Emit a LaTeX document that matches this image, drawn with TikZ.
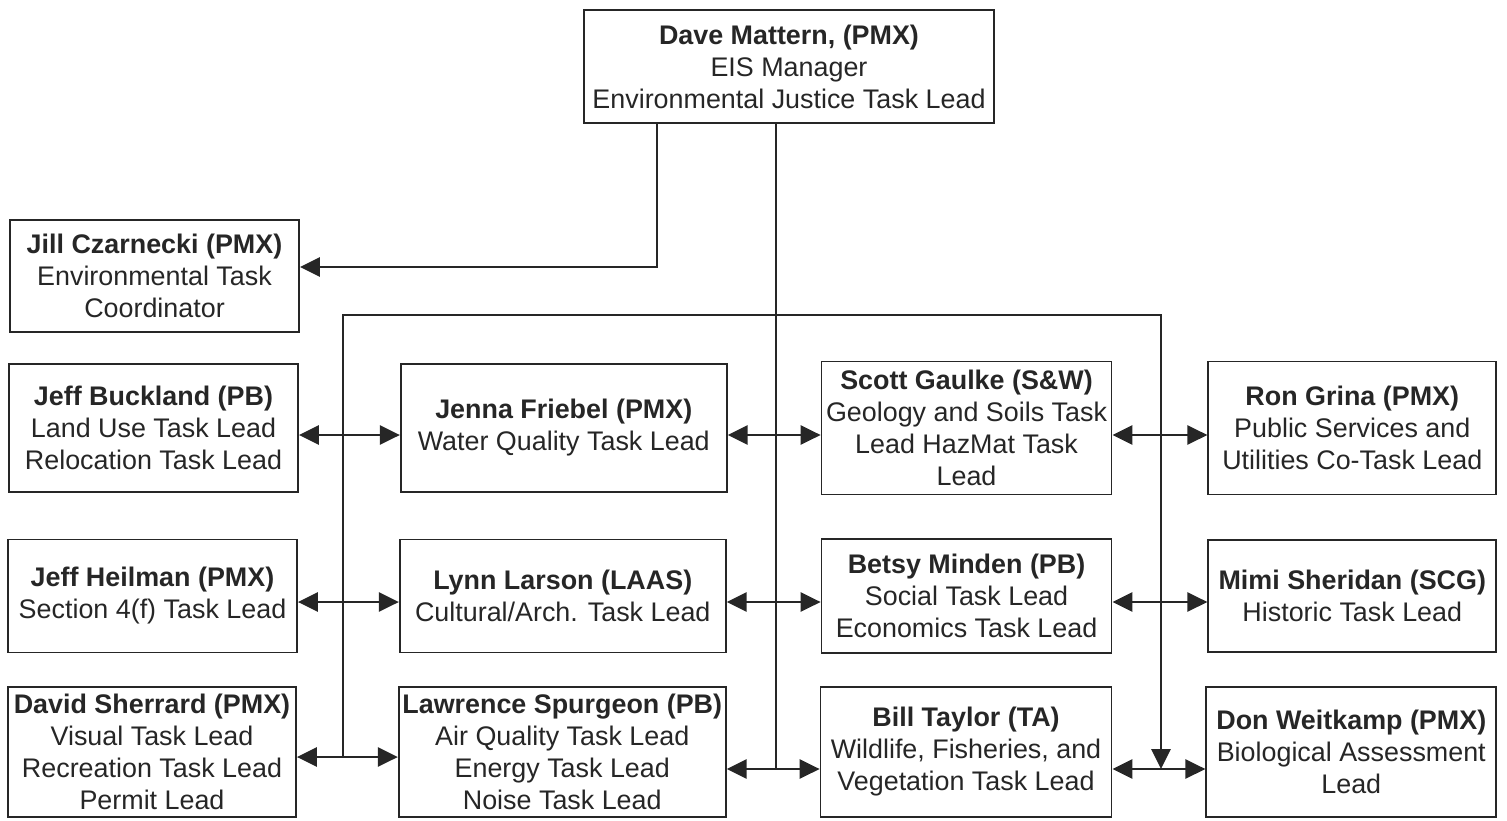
\documentclass[tikz,border=0pt]{standalone}
\usepackage{fontspec}
\setmainfont{Liberation Sans}
\usetikzlibrary{arrows.meta,chains,positioning}

\begin{document}
\begin{tikzpicture}[x=0.2mm,y=-0.2mm,
  box/.style={draw=black!85,line width=1pt,align=center,inner sep=0pt,
    font=\fontsize{15.3}{18.2}\selectfont,text=black!85},
  wh/.style 2 args={minimum width=#1*0.2mm,minimum height=#2*0.2mm},
  link/.style={line width=1.6pt,draw=black!85},
  >={Triangle[length=4mm,width=3.8mm]}]

\useasboundingbox (0,0) rectangle (1507,821);

\node [box,wh={410}{113}] (mattern) at (789,66.5)
  {\textbf{Dave Mattern, (PMX)}\\EIS Manager\\Environmental Justice Task Lead};
\node [box,wh={289}{112}] (czarnecki) at (154.5,276)
  {\textbf{Jill Czarnecki (PMX)}\\Environmental Task\\Coordinator};

\begin{scope}[shift={(153.5,428)},start chain=going right]
\foreach \nm/\g/\w/\h/\txt in {
  buckland/0/289/128/{\textbf{Jeff Buckland (PB)}\\Land Use Task Lead\\Relocation Task Lead},
  friebel/101/326/128/{\textbf{Jenna Friebel (PMX)}\\Water Quality Task Lead},
  gaulke/93/290/133/{\textbf{Scott Gaulke (S\&W)}\\Geology and Soils Task\\Lead HazMat Task\\Lead},
  grina/95/288/133/{\textbf{Ron Grina (PMX)}\\Public Services and\\Utilities Co-Task Lead}}
  \node [box,node distance=\g*0.2mm,on chain,wh={\w}{\h}] (\nm) {\txt};
\end{scope}

\begin{scope}[shift={(152.5,596)},start chain=going right]
\foreach \nm/\g/\w/\h/\txt in {
  heilman/0/289/113/{\textbf{Jeff Heilman (PMX)}\\Section 4(f) Task Lead},
  larson/101/326/113/{\textbf{Lynn Larson (LAAS)}\\Cultural/Arch. Task Lead},
  minden/94/290/114/{\textbf{Betsy Minden (PB)}\\Social Task Lead\\Economics Task Lead},
  sheridan/95/288/112/{\textbf{Mimi Sheridan (SCG)}\\Historic Task Lead}}
  \node [box,node distance=\g*0.2mm,on chain,wh={\w}{\h}] (\nm) {\txt};
\end{scope}

\begin{scope}[shift={(152,752)},start chain=going right]
\foreach \nm/\g/\w/\h/\txt in {
  sherrard/0/288/130/{\textbf{David Sherrard (PMX)}\\Visual Task Lead\\Recreation Task Lead\\Permit Lead},
  spurgeon/101/327/130/{\textbf{Lawrence Spurgeon (PB)}\\Air Quality Task Lead\\Energy Task Lead\\Noise Task Lead},
  taylor/93/291/130/{\textbf{Bill Taylor (TA)}\\Wildlife, Fisheries, and\\Vegetation Task Lead},
  weitkamp/93/290/130/{\textbf{Don Weitkamp (PMX)}\\Biological Assessment\\Lead}}
  \node [box,node distance=\g*0.2mm,on chain,wh={\w}{\h}] (\nm) {\txt};
\end{scope}

% bus lines
\coordinate (busL) at (343,315);
\coordinate (busR) at (1161,315);
\coordinate (stem) at (776,769);

\draw[link,->] (mattern.south -| 657,0) |- (czarnecki.east |- 0,267);
\draw[link] (mattern.south -| stem) -- (stem);
\draw[link,->] (busL |- 0,757) -- (busL) -- (busR) -- (busR |- stem);

% row arrows
\foreach \a/\b/\y in {buckland/friebel/435,friebel/gaulke/435,gaulke/grina/435,
  heilman/larson/602,larson/minden/602,minden/sheridan/602,
  sherrard/spurgeon/757,spurgeon/taylor/769,taylor/weitkamp/769}
  \draw[link,<->] (\a.east |- 0,\y) -- (\b.west |- 0,\y);

\end{tikzpicture}
\end{document}
